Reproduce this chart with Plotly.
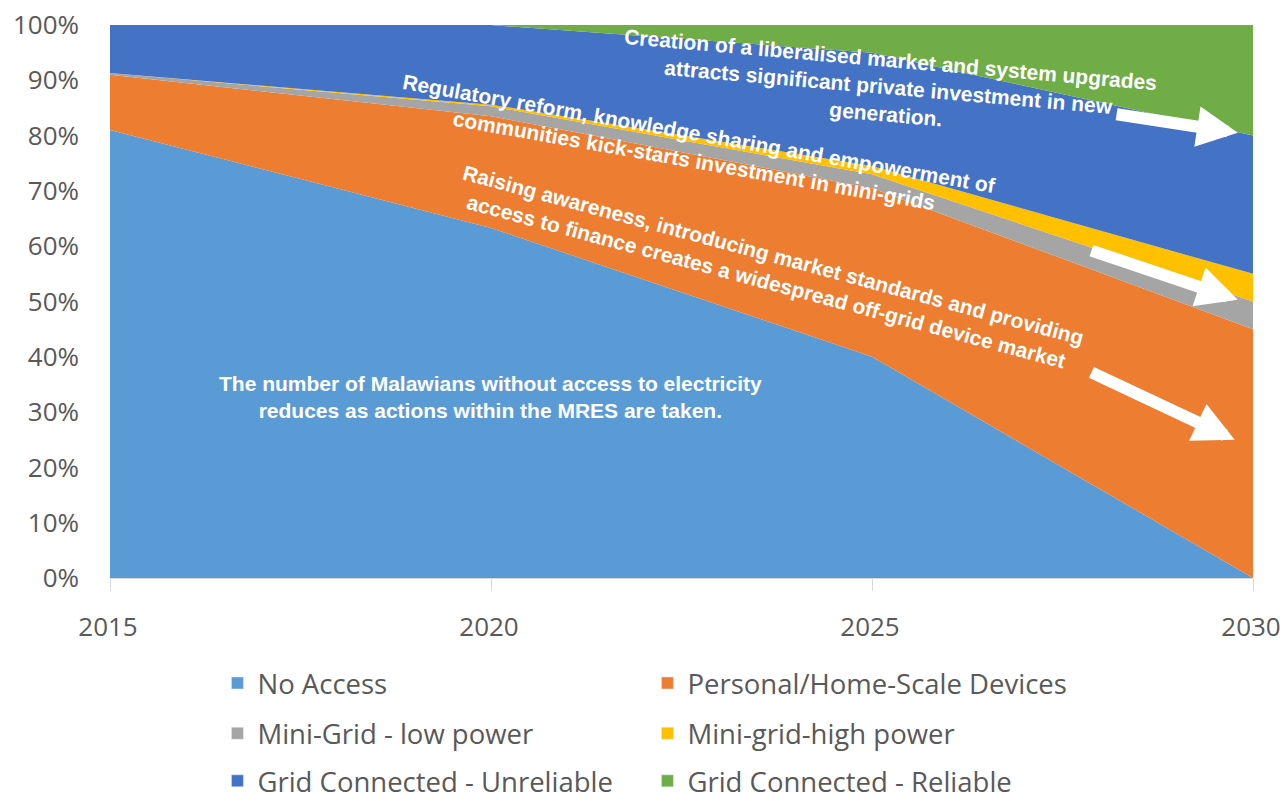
import plotly.graph_objects as go

years = [2015, 2020, 2025, 2030]
no_access = [81.0, 63.3, 40.0, 0.0]
personal = [10.0, 20.2, 30.5, 45.0]
mini_low = [0.3, 1.8, 2.5, 5.0]
mini_high = [0.0, 0.3, 1.5, 5.0]
grid_unreliable = [8.7, 14.4, 20.5, 25.0]
grid_reliable = [0.0, 0.0, 5.0, 20.0]

series_names = ["No Access", "Personal/Home-Scale Devices", "Mini-Grid - low power",
                "Mini-grid-high power", "Grid Connected - Unreliable", "Grid Connected - Reliable"]
series_values = [no_access, personal, mini_low, mini_high, grid_unreliable, grid_reliable]
colors = ["#5B9BD5", "#ED7D31", "#A5A5A5", "#FFC000", "#4472C4", "#70AD47"]
legend_ids = ["legend", "legend", "legend2", "legend2", "legend3", "legend3"]

fig = go.Figure()
for name, vals, col in zip(series_names, series_values, colors):
    fig.add_trace(go.Scatter(x=years, y=vals, name=name, stackgroup="one", mode="none",
                             fillcolor=col, showlegend=False, hoverinfo="x+y+name"))
# legend entries (square swatches)
for name, col, lg in zip(series_names, colors, legend_ids):
    fig.add_trace(go.Bar(x=[None], y=[None], name=name, marker_color=col, legend=lg, showlegend=True))

txt_font = dict(family="Liberation Sans, Arial", size=21, color="white")
annots = [
    dict(x=2025.21, y=88.8, text="<b>Creation of a liberalised market and system upgrades<br>attracts significant private investment in new<br>generation.</b>", textangle=5),
    dict(x=2022.70, y=77.9, text="<b>Regulatory reform, knowledge sharing and empowerment of<br>communities kick-starts investment in mini-grids</b>", textangle=10),
    dict(x=2023.66, y=56.1, text="<b>Raising awareness, introducing market standards and providing<br>access to finance creates a widespread off-grid device market</b>", textangle=15),
    dict(x=2019.99, y=32.7, text="<b>The number of Malawians without access to electricity<br>reduces as actions within the MRES are taken.</b>", textangle=0),
]
for a in annots:
    fig.add_annotation(xref="x", yref="y", showarrow=False, font=txt_font, align="center", **a)

arrows = [
    ((2028.19, 83.9), (2029.80, 80.5)),
    ((2027.86, 59.3), (2029.80, 50.3)),
    ((2027.86, 37.3), (2029.76, 25.0)),
]
for (tx, ty), (hx, hy) in arrows:
    fig.add_annotation(x=hx, y=hy, ax=tx, ay=ty, xref="x", yref="y", axref="x", ayref="y",
                       text="", showarrow=True, arrowhead=2, arrowsize=0.68, arrowwidth=12,
                       arrowcolor="white")

tick_font = dict(family="Open Sans", size=26, color="#595959")
leg_common = dict(orientation="h", font=dict(family="Open Sans", size=27.5, color="#595959"),
                  entrywidth=385, entrywidthmode="pixels", x=0.094, xanchor="left",
                  yanchor="middle", bgcolor="rgba(0,0,0,0)", itemclick=False, traceorder="normal")

fig.update_layout(
    width=1282, height=800,
    margin=dict(l=110, r=29, t=25, b=222, autoexpand=False),
    paper_bgcolor="white", plot_bgcolor="white",
    showlegend=True,
    legend=dict(y=-0.190, **leg_common),
    legend2=dict(y=-0.281, **leg_common),
    legend3=dict(y=-0.367, **leg_common),
    xaxis=dict(range=[2015, 2030], tickvals=years, ticks="outside", ticklen=12, tickcolor="#D9D9D9",
               showline=True, linecolor="#D9D9D9", linewidth=1, showgrid=False, zeroline=False,
               tickfont=tick_font, ticklabelstandoff=14, ticklabelshift=-2, automargin=False,
               ticklabeloverflow="allow"),
    yaxis=dict(range=[0, 100], dtick=10, ticksuffix="%", showgrid=False, zeroline=False,
               showline=False, tickfont=tick_font, ticklabelstandoff=30, automargin=False,
               ticklabeloverflow="allow"),
)

fig.write_html("out.html", config={"displayModeBar": False},
               post_script="document.body.style.margin='0';document.body.style.overflow='hidden';")
